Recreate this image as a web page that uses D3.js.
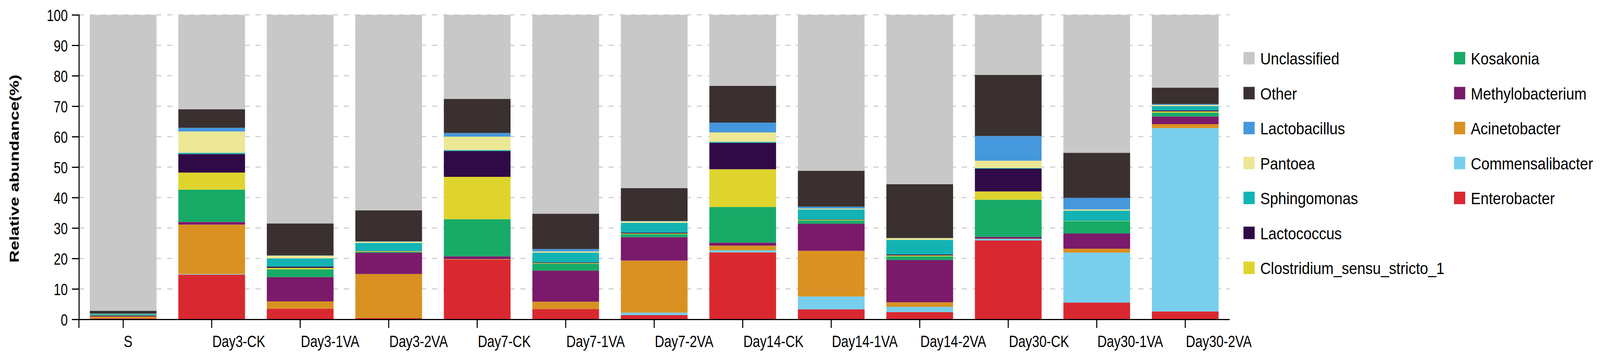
<!DOCTYPE html>
<html><head><meta charset="utf-8">
<script src="https://cdn.jsdelivr.net/npm/d3@7"></script>
<style>
html,body{margin:0;padding:0;background:#fff;width:100%;height:100%;overflow:hidden}
#chart{display:block;width:100vw;height:100vh}
</style>
</head><body>
<svg id="chart" viewBox="0 0 4582 917" preserveAspectRatio="none"></svg>
<script>
const categories = ["S","Day3-CK","Day3-1VA","Day3-2VA","Day7-CK","Day7-1VA","Day7-2VA","Day14-CK","Day14-1VA","Day14-2VA","Day30-CK","Day30-1VA","Day30-2VA"];
const yTicks = [0,10,20,30,40,50,60,70,80,90,100];

const Enterobacter      = [0.3, 14.7, 3.5, 0.4, 19.6, 3.4, 1.4, 22.0, 3.3, 2.4, 25.9, 5.5, 2.6];
const Commensalibacter  = [0.0, 0.2, 0.0, 0.0, 0.0, 0.0, 0.8, 0.7, 4.2, 1.7, 0.5, 16.4, 60.2];
const Acinetobacter     = [0.6, 16.2, 2.4, 14.5, 0.2, 2.4, 17.1, 1.5, 15.0, 1.5, 0.1, 1.3, 1.3];
const Methylobacterium  = [0.3, 0.9, 8.0, 7.0, 0.9, 10.2, 7.7, 1.0, 8.9, 13.9, 0.6, 5.0, 2.5];
const Kosakonia         = [0.25, 10.6, 2.5, 0.3, 12.2, 2.3, 1.0, 11.7, 1.1, 1.2, 12.2, 4.0, 1.3];
const Clostridium       = [0.05, 5.6, 0.5, 0.2, 13.9, 0.2, 0.2, 12.4, 0.2, 0.3, 2.7, 0.1, 0.4];
const Lactococcus       = [0.05, 6.1, 0.4, 0.1, 8.5, 0.2, 0.3, 8.7, 0.1, 0.3, 7.5, 0.0, 0.3];
const Sphingomonas      = [0.25, 0.4, 2.7, 2.6, 0.3, 3.2, 3.2, 0.3, 3.3, 4.8, 0.2, 3.4, 1.4];
const Pantoea           = [0.05, 7.0, 0.9, 0.4, 4.4, 0.4, 0.5, 3.1, 0.3, 0.6, 2.4, 0.4, 0.4];
const Lactobacillus     = [0.05, 1.2, 0.1, 0.1, 1.2, 0.8, 0.1, 3.2, 0.6, 0.0, 8.1, 3.8, 0.3];
const Other             = [0.9, 6.1, 10.5, 10.2, 11.2, 11.6, 10.8, 12.1, 11.8, 17.7, 20.1, 14.8, 5.4];
const Unclassified      = [97.2, 31.0, 68.5, 64.2, 27.6, 65.3, 56.9, 23.3, 51.2, 55.6, 19.7, 45.3, 23.9];

// stacking order, bottom to top
const seriesNames = ["Enterobacter","Commensalibacter","Acinetobacter","Methylobacterium","Kosakonia","Clostridium_sensu_stricto_1","Lactococcus","Sphingomonas","Pantoea","Lactobacillus","Other","Unclassified"];
const seriesValues = [Enterobacter,Commensalibacter,Acinetobacter,Methylobacterium,Kosakonia,Clostridium,Lactococcus,Sphingomonas,Pantoea,Lactobacillus,Other,Unclassified];
const seriesColors = ["#da2830","#78cfed","#d99221","#7b1a6a","#17ab67","#dfd42e","#2f0a47","#13b3b4","#ece795","#4598dc","#3a3030","#c8c8c8"];

const legendCol1 = ["Unclassified","Other","Lactobacillus","Pantoea","Sphingomonas","Lactococcus","Clostridium_sensu_stricto_1"];
const legendCol2 = ["Kosakonia","Methylobacterium","Acinetobacter","Commensalibacter","Enterobacter"];

const FONT = '"Liberation Sans", Arial, Helvetica, sans-serif';
const svg = d3.select("#chart");

const x = d3.scaleBand().domain(categories).range([226, 3521]).paddingInner(0.2464).paddingOuter(0.1232);
const y = d3.scaleLinear().domain([0, 100]).range([818, 38]);
const color = d3.scaleOrdinal().domain(seriesNames).range(seriesColors);

// gridlines
svg.append("g").selectAll("line").data(yTicks.filter(d => d > 0)).join("line")
  .attr("x1", x.range()[0]).attr("x2", x.range()[1])
  .attr("y1", d => y(d)).attr("y2", d => y(d))
  .attr("stroke", "#c8c8c8").attr("stroke-width", 2.5)
  .attr("stroke-dasharray", "15 16.6");

// table
const table = categories.map((c, i) => {
  const row = {category: c};
  seriesNames.forEach((n, j) => row[n] = seriesValues[j][i]);
  return row;
});
const stacked = d3.stack().keys(seriesNames)(table);

svg.append("g").selectAll("g").data(stacked).join("g")
  .attr("fill", d => color(d.key))
  .selectAll("rect").data(d => d).join("rect")
  .attr("x", d => x(d.data.category))
  .attr("width", x.bandwidth())
  .attr("y", d => y(d[1]))
  .attr("height", d => Math.max(0, y(d[0]) - y(d[1])));

// x axis
const xAxis = svg.append("g").attr("transform", `translate(0,${y(0)})`)
  .call(d3.axisBottom(x).tickSize(22).tickSizeOuter(0));
xAxis.select(".domain").attr("stroke", "#000").attr("stroke-width", 3);
xAxis.selectAll(".tick line").attr("stroke", "#000").attr("stroke-width", 3);
xAxis.selectAll(".tick text")
  .attr("font-family", FONT).attr("font-size", 43).attr("fill", "#000")
  .attr("text-anchor", "start").attr("x", 2).attr("y", 71).attr("dy", 0)
  .attr("transform", "scale(0.87,1)");
// left outer tick under the origin
svg.append("line").attr("x1", x.range()[0]).attr("x2", x.range()[0])
  .attr("y1", y(0)).attr("y2", y(0) + 22).attr("stroke", "#000").attr("stroke-width", 3);

// y axis
const yAxis = svg.append("g").attr("transform", `translate(${x.range()[0]},0)`)
  .call(d3.axisLeft(y).tickValues(yTicks).tickSize(20).tickSizeOuter(20));
yAxis.select(".domain").attr("stroke", "#000").attr("stroke-width", 3);
yAxis.selectAll(".tick line").attr("stroke", "#000").attr("stroke-width", 3);
yAxis.selectAll(".tick text")
  .attr("font-family", FONT).attr("font-size", 43).attr("fill", "#000")
  .attr("x", -38).attr("dy", "0.36em")
  .attr("transform", "scale(0.84,1)");

// y title
svg.append("text")
  .attr("transform", "translate(40,432) scale(0.86,1) rotate(-90)")
  .attr("text-anchor", "middle").attr("dominant-baseline", "central")
  .attr("font-family", FONT).attr("font-weight", "bold").attr("font-size", 44)
  .attr("fill", "#000")
  .text("Relative abundance(%)");

// legend
const legendCols = [{x: 3561, items: legendCol1}, {x: 4164, items: legendCol2}];
legendCols.forEach(col => {
  const g = svg.append("g");
  const items = g.selectAll("g").data(col.items).join("g")
    .attr("transform", (d, i) => `translate(${col.x},${133 + i * 89.5})`);
  items.append("rect").attr("width", 32).attr("height", 32).attr("fill", d => color(d));
  items.append("text").attr("x", 48).attr("y", 32)
    .attr("font-family", FONT).attr("font-size", 42).attr("fill", "#000")
    .text(d => d);
});
</script>
</body></html>
